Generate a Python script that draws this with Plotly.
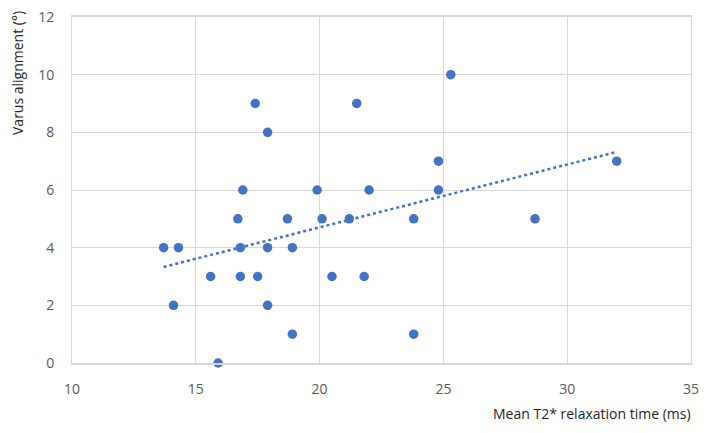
import numpy as np
import plotly.graph_objects as go

# Mean T2* relaxation time (ms) vs varus alignment (deg)
t2_star = [13.7, 14.3, 14.1, 15.6, 15.9, 16.7, 16.8, 16.8, 16.9, 17.4, 17.5,
           17.9, 17.9, 17.9, 18.7, 18.9, 18.9, 19.9, 20.1, 20.5, 21.2, 21.5,
           21.8, 22.0, 23.8, 23.8, 24.8, 24.8, 25.3, 28.7, 32.0]
varus = [4, 4, 2, 3, 0, 5, 4, 3, 6, 9, 3,
         8, 4, 2, 5, 4, 1, 6, 5, 3, 5, 9,
         3, 6, 5, 1, 7, 6, 10, 5, 7]

x_ticks = [10, 15, 20, 25, 30, 35]
y_ticks = [0, 2, 4, 6, 8, 10, 12]

# linear trendline
slope, intercept = np.polyfit(t2_star, varus, 1)
trend_x = [min(t2_star), max(t2_star)]
trend_y = [slope * v + intercept for v in trend_x]

fig = go.Figure()
fig.add_trace(go.Scatter(x=trend_x, y=trend_y, mode='lines',
                         line=dict(color='#4472C4', width=2.5, dash='dot'),
                         hoverinfo='skip', cliponaxis=False))
fig.add_trace(go.Scatter(x=t2_star, y=varus, mode='markers',
                         marker=dict(color='#4472C4', size=9.5), cliponaxis=False))

# page body has an 8px margin, keep the figure small enough to avoid scrollbars
fig.update_layout(
    width=692, height=417,
    margin=dict(l=64, r=9, t=9, b=62),
    paper_bgcolor='white', plot_bgcolor='white',
    showlegend=False,
    font=dict(family='Open Sans', color='#595959', size=14),
    xaxis=dict(range=[10, 35], tickvals=x_ticks, showgrid=True,
               gridcolor='#D9D9D9', gridwidth=1, zeroline=False,
               showline=True, mirror=True, linecolor='#D9D9D9', linewidth=1.5,
               ticks='', ticklabelstandoff=12, automargin=False,
               ticklabeloverflow='allow'),
    yaxis=dict(range=[0, 12], tickvals=y_ticks, showgrid=True,
               gridcolor='#D9D9D9', gridwidth=1, zeroline=False,
               showline=True, mirror=True, linecolor='#D9D9D9', linewidth=1,
               ticks='', ticklabelstandoff=14, automargin=False,
               ticklabeloverflow='allow'),
    annotations=[
        dict(text='Varus alignment (°)', textangle=-90, xref='paper', yref='paper',
             x=0, y=1, xanchor='center', yanchor='top', xshift=-55, yshift=8,
             showarrow=False, font=dict(size=14, color='#262626')),
        dict(text='Mean T2* relaxation time (ms)', xref='paper', yref='paper',
             x=1, y=0, xanchor='right', yanchor='middle', yshift=-50, xshift=2,
             showarrow=False, font=dict(size=14, color='#262626')),
    ],
)

fig.write_html("out.html")
